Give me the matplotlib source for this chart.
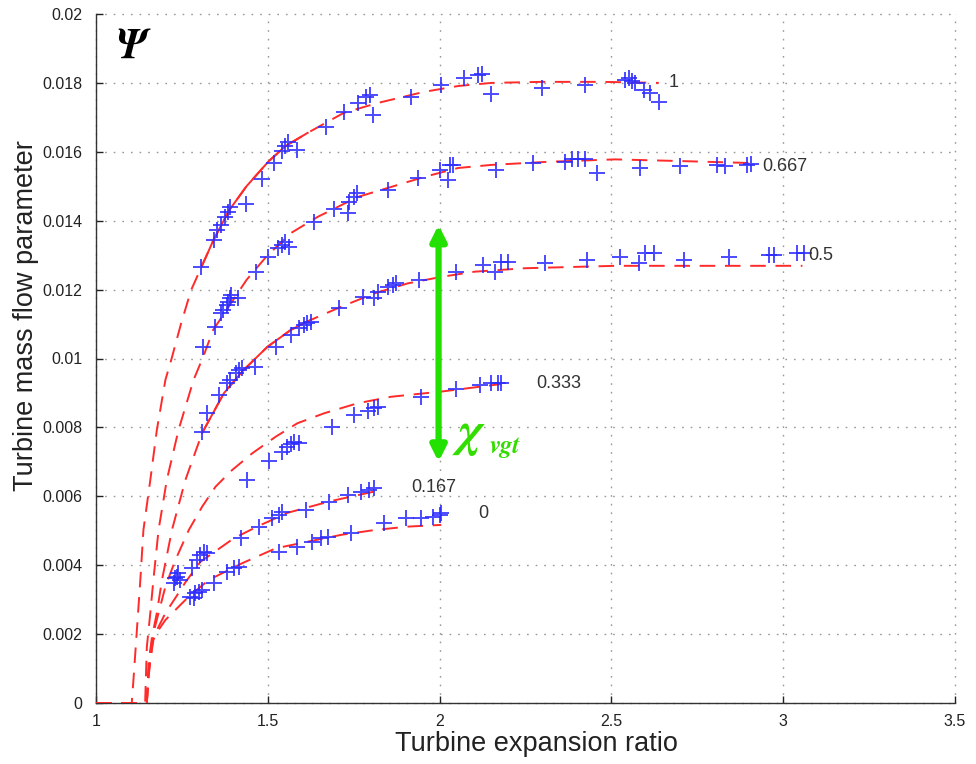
import numpy as np
import matplotlib
matplotlib.use("Agg")
import matplotlib.pyplot as plt
from matplotlib import font_manager

# ---------------- data ----------------
vgt_labels = ["1", "0.667", "0.5", "0.333", "0.167", "0"]

# model curves (red)
fit_x_1 = [1.000, 1.104, 1.109, 1.119, 1.129, 1.138, 1.158, 1.177, 1.202, 1.219, 1.248, 1.277,
           1.307, 1.342, 1.388, 1.438, 1.502, 1.552, 1.616, 1.721, 1.821, 1.955, 2.054, 2.151,
           2.297, 2.472, 2.638]
fit_y_1 = [0, 0, 0.00067, 0.00212, 0.00357, 0.00502, 0.00647, 0.00792, 0.00938, 0.00996, 0.01103,
           0.01199, 0.01266, 0.01344, 0.01431, 0.01500, 0.01572, 0.01617, 0.01655, 0.01713, 0.01742,
           0.01774, 0.01791, 0.01800, 0.01803, 0.01803, 0.01800]

fit_x_0667 = [1.000, 1.143, 1.145, 1.148, 1.158, 1.167, 1.182, 1.206, 1.240, 1.284, 1.312, 1.341,
              1.380, 1.438, 1.496, 1.567, 1.645, 1.762, 1.859, 1.955, 2.054, 2.151, 2.316, 2.510,
              2.706, 2.919]
fit_y_0667 = [0, 0, 0.00067, 0.00163, 0.00261, 0.00357, 0.00502, 0.00647, 0.00792, 0.00938, 0.01005,
              0.01083, 0.01141, 0.01228, 0.01296, 0.01364, 0.01411, 0.01469, 0.01498, 0.01527,
              0.01553, 0.01562, 0.01571, 0.01578, 0.01573, 0.01567]

fit_x_05 = [1.000, 1.148, 1.153, 1.163, 1.177, 1.192, 1.221, 1.260, 1.309, 1.372, 1.430, 1.499,
            1.567, 1.625, 1.713, 1.810, 1.907, 2.005, 2.102, 2.248, 2.511, 2.764, 3.056]
fit_y_05 = [0, 0, 0.00116, 0.00192, 0.00261, 0.00357, 0.00502, 0.00647, 0.00784, 0.00899, 0.00967,
            0.01034, 0.01083, 0.01112, 0.01150, 0.01189, 0.01218, 0.01237, 0.01252, 0.01262,
            0.01269, 0.01269, 0.01269]

fit_x_0333 = [1.000, 1.148, 1.151, 1.158, 1.167, 1.182, 1.202, 1.231, 1.270, 1.309, 1.348, 1.396,
              1.455, 1.523, 1.586, 1.664, 1.761, 1.859, 2.005, 2.180]
fit_y_0333 = [0, 0, 0.00067, 0.00145, 0.00203, 0.00261, 0.00338, 0.00415, 0.00502, 0.00570,
              0.00628, 0.00676, 0.00725, 0.00773, 0.00812, 0.00841, 0.00870, 0.00889, 0.00904,
              0.00926]

fit_x_0167 = [1.000, 1.148, 1.152, 1.158, 1.167, 1.182, 1.202, 1.231, 1.260, 1.304, 1.401, 1.469,
              1.557, 1.683, 1.820]
fit_y_0167 = [0, 0, 0.00067, 0.00125, 0.00192, 0.00221, 0.00261, 0.00305, 0.00350, 0.00410,
              0.00478, 0.00512, 0.00552, 0.00586, 0.00616]

fit_x_0 = [1.000, 1.148, 1.152, 1.158, 1.167, 1.182, 1.202, 1.231, 1.270, 1.328, 1.426, 1.523,
           1.615, 1.713, 1.810, 1.907, 2.005]
fit_y_0 = [0, 0, 0.00067, 0.00125, 0.00183, 0.00212, 0.00241, 0.00270, 0.00309, 0.00357, 0.00406,
           0.00449, 0.00468, 0.00488, 0.00502, 0.00512, 0.00517]

# measured points (blue +)
meas_x_1 = [1.307, 1.342, 1.353, 1.365, 1.374, 1.383, 1.391, 1.438, 1.482, 1.517, 1.540, 1.549,
            1.558, 1.584, 1.669, 1.721, 1.762, 1.786, 1.797, 1.806, 1.917, 2.005, 2.072, 2.113,
            2.124, 2.151, 2.297, 2.422, 2.539, 2.551, 2.560, 2.568, 2.595, 2.613, 2.639]
meas_y_1 = [0.01266, 0.01344, 0.01373, 0.01388, 0.01411, 0.01425, 0.01440, 0.01448, 0.01521,
            0.01567, 0.01602, 0.01617, 0.01628, 0.01605, 0.01672, 0.01716, 0.01742, 0.01759,
            0.01765, 0.01707, 0.01759, 0.01794, 0.01814, 0.01823, 0.01826, 0.01768, 0.01785,
            0.01794, 0.01808, 0.01814, 0.01806, 0.01800, 0.01779, 0.01771, 0.01745]

meas_x_0667 = [1.312, 1.345, 1.365, 1.370, 1.380, 1.385, 1.389, 1.394, 1.414, 1.467, 1.501, 1.531,
               1.540, 1.550, 1.562, 1.635, 1.693, 1.732, 1.737, 1.751, 1.761, 1.849, 1.937, 2.000,
               2.029, 2.039, 2.024, 2.165, 2.272, 2.365, 2.384, 2.404, 2.423, 2.457, 2.584, 2.701,
               2.808, 2.832, 2.895, 2.905]
meas_y_0667 = [0.01034, 0.01092, 0.01131, 0.01141, 0.01155, 0.01165, 0.01175, 0.01184, 0.01175,
               0.01252, 0.01296, 0.01320, 0.01329, 0.01339, 0.01325, 0.01397, 0.01433, 0.01421,
               0.01455, 0.01470, 0.01480, 0.01489, 0.01523, 0.01548, 0.01562, 0.01562, 0.01518,
               0.01548, 0.01567, 0.01571, 0.01578, 0.01578, 0.01578, 0.01538, 0.01552, 0.01559,
               0.01562, 0.01559, 0.01562, 0.01565]

meas_x_05 = [1.309, 1.323, 1.357, 1.382, 1.391, 1.406, 1.416, 1.426, 1.464, 1.523, 1.567, 1.591,
             1.605, 1.615, 1.625, 1.708, 1.776, 1.810, 1.820, 1.849, 1.864, 1.873, 1.941, 2.048,
             2.126, 2.160, 2.180, 2.199, 2.306, 2.428, 2.525, 2.579, 2.598, 2.623, 2.711, 2.842,
             2.959, 2.973, 3.041, 3.061]
meas_y_05 = [0.00788, 0.00841, 0.00894, 0.00928, 0.00938, 0.00957, 0.00967, 0.00972, 0.00976,
             0.01034, 0.01068, 0.01088, 0.01097, 0.01102, 0.01107, 0.01146, 0.01179, 0.01175,
             0.01194, 0.01208, 0.01213, 0.01218, 0.01228, 0.01252, 0.01271, 0.01252, 0.01281,
             0.01281, 0.01276, 0.01286, 0.01296, 0.01278, 0.01305, 0.01305, 0.01286, 0.01294,
             0.01300, 0.01300, 0.01305, 0.01305]

meas_x_0333 = [1.440, 1.503, 1.542, 1.557, 1.567, 1.576, 1.591, 1.688, 1.751, 1.791, 1.810, 1.820,
               1.946, 2.048, 2.117, 2.151, 2.170, 2.180]
meas_y_0333 = [0.00647, 0.00703, 0.00729, 0.00744, 0.00752, 0.00758, 0.00754, 0.00800, 0.00836,
               0.00848, 0.00855, 0.00860, 0.00889, 0.00911, 0.00923, 0.00928, 0.00930, 0.00930]

meas_x_0167 = [1.226, 1.231, 1.236, 1.240, 1.245, 1.279, 1.294, 1.304, 1.313, 1.323, 1.421, 1.474,
               1.513, 1.532, 1.542, 1.610, 1.678, 1.732, 1.771, 1.795, 1.810]
meas_y_0167 = [0.00347, 0.00362, 0.00367, 0.00376, 0.00357, 0.00391, 0.00415, 0.00430, 0.00439,
               0.00435, 0.00478, 0.00512, 0.00536, 0.00546, 0.00555, 0.00560, 0.00584, 0.00604,
               0.00613, 0.00618, 0.00623]

meas_x_0 = [1.275, 1.284, 1.289, 1.299, 1.309, 1.343, 1.382, 1.401, 1.416, 1.532, 1.586, 1.630,
            1.654, 1.674, 1.742, 1.839, 1.902, 1.946, 1.980, 2.000, 2.005]
meas_y_0 = [0.00309, 0.00304, 0.00318, 0.00323, 0.00328, 0.00347, 0.00381, 0.00391, 0.00394,
            0.00439, 0.00454, 0.00468, 0.00478, 0.00483, 0.00493, 0.00522, 0.00536, 0.00536,
            0.00541, 0.00546, 0.00551]

# end-of-curve labels (position in data units)
label_x = [2.668, 2.939, 3.074, 2.282, 1.917, 2.113]
label_y = [0.0180, 0.01556, 0.0130, 0.00927, 0.006255, 0.0055]

# ranges where the model line is drawn solid
solid_ranges = {"1": (1.30, 1.62), "0.5": (1.30, 1.64)}

x_ticks = [1, 1.5, 2, 2.5, 3, 3.5]
x_tick_labels = ["1", "1.5", "2", "2.5", "3", "3.5"]
y_ticks = [0, 0.002, 0.004, 0.006, 0.008, 0.01, 0.012, 0.014, 0.016, 0.018, 0.02]
y_tick_labels = ["0", "0.002", "0.004", "0.006", "0.008", "0.01", "0.012", "0.014", "0.016",
                 "0.018", "0.02"]

fits = [(fit_x_1, fit_y_1), (fit_x_0667, fit_y_0667), (fit_x_05, fit_y_05),
        (fit_x_0333, fit_y_0333), (fit_x_0167, fit_y_0167), (fit_x_0, fit_y_0)]
meas = [(meas_x_1, meas_y_1), (meas_x_0667, meas_y_0667), (meas_x_05, meas_y_05),
        (meas_x_0333, meas_y_0333), (meas_x_0167, meas_y_0167), (meas_x_0, meas_y_0)]

# ---------------- fonts ----------------
available = {f.name for f in font_manager.fontManager.ttflist}
label_font = "Liberation Sans Narrow" if "Liberation Sans Narrow" in available else "Liberation Sans"
greek_font = ["STIXGeneral", "Liberation Serif", "DejaVu Serif"]
plt.rcParams["font.family"] = ["Liberation Sans", "DejaVu Sans"]

# ---------------- figure ----------------
fig = plt.figure(figsize=(9.76, 7.64), dpi=100)
ax = fig.add_axes([96 / 976, 61 / 764, (955 - 96) / 976, (703 - 14) / 764])

red = "#ff2a2a"
blue = "#2b2bff"

for (fx, fy), (mx, my), lab in zip(fits, meas, vgt_labels):
    ax.plot(fx, fy, color=red, lw=1.4, dashes=(8, 5), zorder=3)
    if lab in solid_ranges:
        lo, hi = solid_ranges[lab]
        sx = [x for x in fx if lo <= x <= hi]
        sy = [y for x, y in zip(fx, fy) if lo <= x <= hi]
        ax.plot(sx, sy, color=red, lw=1.4, ls="-", zorder=3)
    ax.plot(mx, my, ls="none", marker="+", ms=11.5, mew=1.4, color=blue, alpha=0.85, zorder=4)

for lab, lx, ly in zip(vgt_labels, label_x, label_y):
    ax.text(lx, ly, lab, fontsize=13, color="#333333", ha="left", va="center", zorder=5)

# green double arrow and chi label
ax.annotate("", xy=(1.997, 0.01388), xytext=(1.997, 0.0070),
            arrowprops=dict(arrowstyle="<|-|>,head_length=0.9,head_width=0.45", lw=4.5,
                            color="#22e000", shrinkA=0, shrinkB=0), zorder=6)
ax.text(2.055, 0.00745, "\u03c7", fontsize=36, color="#33dd00", fontweight="bold",
        fontstyle="italic", family=greek_font, ha="left",
        va="baseline", zorder=6)
ax.text(2.145, 0.00726, "vgt", fontsize=18, color="#33dd00", fontweight="bold",
        fontstyle="italic", family=greek_font, ha="left",
        va="baseline", zorder=6)

# Psi
ax.text(1.062, 0.01872, "\u03a8", fontsize=30, color="black", fontweight="bold",
        fontstyle="italic", family=greek_font, ha="left",
        va="baseline", zorder=6)

ax.set_xlim(1, 3.5)
ax.set_ylim(0, 0.02)
ax.set_xticks(x_ticks)
ax.set_xticklabels(x_tick_labels)
ax.set_yticks(y_ticks)
ax.set_yticklabels(y_tick_labels)
ax.tick_params(direction="in", length=5, width=1, labelsize=11.5, colors="#222222", pad=10)
ax.tick_params(axis="x", pad=8)

for s in ["top", "right"]:
    ax.spines[s].set_visible(False)
for s in ["left", "bottom"]:
    ax.spines[s].set_color("#333333")
    ax.spines[s].set_linewidth(1.0)

ax.grid(True, color="#999999", ls=(0, (1.2, 5)), lw=1.0)
ax.set_axisbelow(True)
for gl in ax.get_xgridlines() + ax.get_ygridlines():
    gl.set_clip_on(False)

ax.set_xlabel("Turbine expansion ratio", fontsize=19.5, family=[label_font, "DejaVu Sans"],
              color="#222222")
ax.set_ylabel("Turbine mass flow parameter", fontsize=19.5, family=[label_font, "DejaVu Sans"],
              color="#222222")
ax.xaxis.set_label_coords(0.513, -0.040)
ax.yaxis.set_label_coords(-0.066, 0.563)
ax.xaxis.label.set_va("top")
ax.yaxis.label.set_va("bottom")

fig.savefig("out.png", dpi=100, facecolor="white")
